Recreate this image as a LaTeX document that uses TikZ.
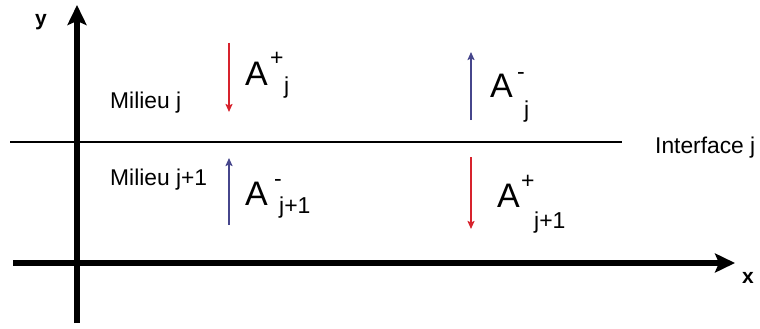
\documentclass[tikz,border=0pt]{standalone}
\usepackage{fontspec}
\setmainfont{Liberation Sans}
\usetikzlibrary{arrows.meta}
\definecolor{arrred}{RGB}{215,35,45}
\definecolor{arrblue}{RGB}{70,70,140}
\begin{document}
\begin{tikzpicture}[x=1pt,y=-1pt,
  axis/.style={line width=5.5pt,-{Stealth[length=20pt,width=19pt,inset=4pt]}},
  wave/.style={line width=1.8pt,-{Stealth[length=8pt,width=7pt,inset=1.5pt]}},
  downwave/.style={wave,draw=arrred,fill=arrred},
  upwave/.style={wave,draw=arrblue,fill=arrblue},
  amp/.style={inner sep=0pt,anchor=base west,font=\fontsize{34}{40}\selectfont},
  idx/.style={inner sep=0pt,anchor=base west,font=\fontsize{23}{27}\selectfont},
  lbl/.style={inner sep=0pt,anchor=base west,font=\fontsize{22.8}{27}\selectfont},
  axlbl/.style={inner sep=0pt,anchor=base west,font=\bfseries\fontsize{21}{25}\selectfont}]
\useasboundingbox (0,0) rectangle (760,329);
% axes
\coordinate (yb) at (77,323);
\coordinate (yt) at (77,5);
\coordinate (xl) at (13,263);
\coordinate (xr) at (735,263);
\draw[axis] (yb) -- (yt);
\draw[axis] (xl) -- (xr);
\node[axlbl] (ylab) at (35,26) {y};
\node[axlbl] (xlab) at (742,283) {x};
% interface
\coordinate (il) at (10,142);
\coordinate (ir) at (622,142);
\draw[line width=1.6pt] (il) -- (ir);
\node[lbl] (iface) at (655,153) {Interface j};
\node[lbl] (mj) at (110,108) {Milieu j};
\node[lbl] (mj1) at (110,185) {Milieu j+1};
% wave arrows
\coordinate (a1s) at (229,43);
\coordinate (a1e) at (229,112);
\coordinate (a2s) at (471,120);
\coordinate (a2e) at (471,52);
\coordinate (a3s) at (229,225);
\coordinate (a3e) at (229,158);
\coordinate (a4s) at (471,157);
\coordinate (a4e) at (471,229);
\draw[downwave] (a1s) -- (a1e);
\draw[upwave] (a2s) -- (a2e);
\draw[upwave] (a3s) -- (a3e);
\draw[downwave] (a4s) -- (a4e);
% amplitude labels
\node[amp] (A1) at (245,85) {A};
\node[idx] (A1p) at (270,66) {+};
\node[idx] (A1j) at (284,93) {j};
\node[amp] (A2) at (490,97) {A};
\node[idx] (A2m) at (517,80) {-};
\node[idx] (A2j) at (524,117) {j};
\node[amp] (A3) at (245,205) {A};
\node[idx] (A3m) at (274,186) {-};
\node[idx] (A3j) at (279,213) {j+1};
\node[amp] (A4) at (497,207) {A};
\node[idx] (A4p) at (521,188) {+};
\node[idx] (A4j) at (534,228) {j+1};
\end{tikzpicture}
\end{document}
